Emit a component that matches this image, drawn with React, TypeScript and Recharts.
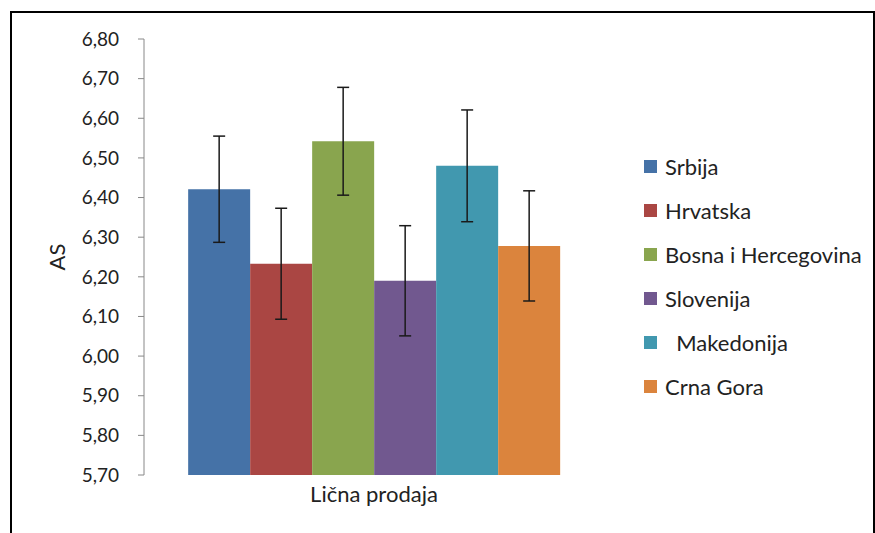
import React from "react";
import { BarChart, Bar, XAxis, YAxis, ErrorBar, Legend } from "recharts";

// single category, one series per country
const category = "Lična prodaja";
const countries = ["Srbija", "Hrvatska", "Bosna i Hercegovina", "Slovenija", "  Makedonija", "Crna Gora"];
const means = [6.421, 6.233, 6.542, 6.19, 6.48, 6.278];
const errors = [0.134, 0.14, 0.136, 0.139, 0.141, 0.139];
const colors = ["#4572A7", "#AA4643", "#89A54E", "#71588F", "#4198AF", "#DB843D"];
const yTicks = [5.7, 5.8, 5.9, 6.0, 6.1, 6.2, 6.3, 6.4, 6.5, 6.6, 6.7, 6.8];

const FONT = "Lato, 'Open Sans', sans-serif";

const row: { [key: string]: any } = { name: category };
countries.forEach((c, i) => {
  row["m" + i] = means[i];
  row["e" + i] = errors[i];
});
const data = [row];

const fmt = (v: number) => v.toFixed(2).replace(".", ",");

function LegendList(props: any) {
  // keep series order, not alphabetical
  const items = [...(props.payload || [])].sort(
    (a: any, b: any) => countries.indexOf(a.value) - countries.indexOf(b.value)
  );
  return (
    <div style={{ fontFamily: FONT, fontSize: 22, color: "#222" }}>
      {items.map((it: any) => (
        <div key={it.value} style={{ height: 44, display: "flex", alignItems: "center" }}>
          <span style={{ width: 13, height: 13, background: it.color, display: "inline-block", marginRight: 8 }} />
          <span style={{ whiteSpace: "pre" }}>{it.value}</span>
        </div>
      ))}
    </div>
  );
}

export default function App() {
  return (
    <div style={{ position: "absolute", left: 0, top: 0, width: 875, height: 533, overflow: "hidden", background: "#fff" }}>
      <div
        style={{
          position: "absolute",
          left: 10,
          top: 11,
          width: 865,
          height: 600,
          boxSizing: "border-box",
          border: "2px solid #000",
        }}
      />
      <div style={{ position: "absolute", left: 0, top: 0 }}>
        <BarChart
          width={875}
          height={533}
          data={data}
          margin={{ top: 39, right: 271, left: 10, bottom: 28 }}
          barCategoryGap="9.6%"
          barGap={0}
        >
          <XAxis
            dataKey="name"
            axisLine={false}
            tickLine={false}
            height={30}
            tickMargin={5}
            tick={{ fill: "#222", fontSize: 22, fontFamily: FONT }}
          />
          <YAxis
            width={134}
            domain={[5.7, 6.8]}
            ticks={yTicks}
            interval={0}
            tickFormatter={fmt}
            axisLine={{ stroke: "#888" }}
            tickLine={{ stroke: "#888" }}
            tickSize={6}
            tickMargin={19}
            tick={{ fill: "#222", fontSize: 19, fontFamily: FONT }}
            label={{
              value: "AS",
              angle: -90,
              position: "insideLeft",
              offset: 47,
              style: { textAnchor: "middle", fill: "#222", fontSize: 22, fontFamily: FONT },
            }}
          />
          <Legend
            layout="vertical"
            align="center"
            verticalAlign="middle"
            wrapperStyle={{ left: 644, top: 144, width: 231 }}
            content={<LegendList />}
          />
          {countries.map((c, i) => (
            <Bar key={c} dataKey={"m" + i} name={c} fill={colors[i]} isAnimationActive={false}>
              <ErrorBar dataKey={"e" + i} width={6} stroke="#1a1a1a" strokeWidth={1.5} />
            </Bar>
          ))}
        </BarChart>
      </div>
    </div>
  );
}
